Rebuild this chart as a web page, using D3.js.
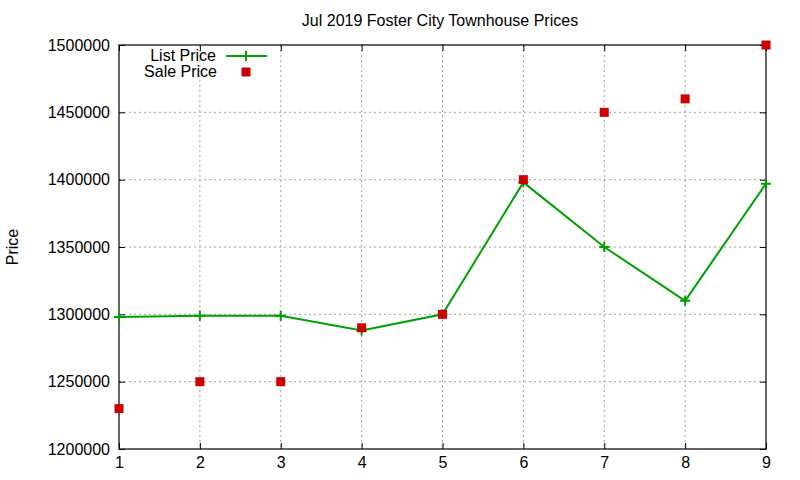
<!DOCTYPE html>
<meta charset="utf-8">
<style>
  body { margin: 0; background: #fff; }
  text { font-family: "Liberation Sans", Arial, sans-serif; fill: #000; }
</style>
<body>
<script src="https://d3js.org/d3.v7.min.js"></script>
<script>
  // data
  var months = [1, 2, 3, 4, 5, 6, 7, 8, 9];
  var listPrice = [1298000, 1299000, 1299000, 1288000, 1300000, 1398000, 1350000, 1310000, 1397000];
  var salePrice = [1230000, 1250000, 1250000, 1290000, 1300000, 1400000, 1450000, 1460000, 1500000];
  var yTicks = [1200000, 1250000, 1300000, 1350000, 1400000, 1450000, 1500000];
  var title = "Jul 2019 Foster City Townhouse Prices";

  var svg = d3.select("body").append("svg")
          .attr("width", 800)
          .attr("height", 480);

  var margin = {top: 45, right: 34, bottom: 31, left: 119},
          width = 800 - margin.left - margin.right,
          height = 480 - margin.top - margin.bottom,
          g = svg.append("g").attr("transform", "translate(" + margin.left + "," + margin.top + ")");

  var x = d3.scaleLinear().domain([1, 9]).range([0, width]);
  var y = d3.scaleLinear().domain([1200000, 1500000]).range([height, 0]);

  // grid
  g.append("g").selectAll("line")
          .data(months.slice(1, -1))
          .enter().append("line")
          .attr("x1", function(d) { return x(d); })
          .attr("x2", function(d) { return x(d); })
          .attr("y1", 0).attr("y2", height)
          .attr("stroke", "#a0a0a0").attr("stroke-dasharray", "2,3");
  g.append("g").selectAll("line")
          .data(yTicks.slice(1, -1))
          .enter().append("line")
          .attr("x1", 0).attr("x2", width)
          .attr("y1", function(d) { return y(d); })
          .attr("y2", function(d) { return y(d); })
          .attr("stroke", "#a0a0a0").attr("stroke-dasharray", "2,3");

  // axes (ticks point inward, mirrored on top/right)
  function styleAxis(sel) {
    sel.select(".domain").remove();
    sel.selectAll(".tick line").attr("stroke", "#000");
    sel.selectAll(".tick text").style("font-size", "16px")
            .style("font-family", "'Liberation Sans', Arial, sans-serif");
  }
  g.append("g").attr("transform", "translate(0," + height + ")")
          .call(d3.axisBottom(x).tickValues(months).tickSizeInner(-6).tickPadding(8).tickFormat(d3.format("d")))
          .call(styleAxis);
  g.append("g")
          .call(d3.axisLeft(y).tickValues(yTicks).tickSizeInner(-6).tickPadding(9).tickFormat(d3.format("d")))
          .call(styleAxis);
  g.append("g")
          .call(d3.axisTop(x).tickValues(months).tickSizeInner(-6).tickFormat(""))
          .call(styleAxis);
  g.append("g").attr("transform", "translate(" + width + ",0)")
          .call(d3.axisRight(y).tickValues(yTicks).tickSizeInner(-6).tickFormat(""))
          .call(styleAxis);

  g.append("rect")
          .attr("width", width).attr("height", height)
          .attr("fill", "none").attr("stroke", "#000").attr("stroke-width", 1.2);

  // list price line
  var line = d3.line()
          .x(function(d, i) { return x(months[i]); })
          .y(function(d) { return y(d); });
  g.append("path")
          .datum(listPrice)
          .attr("d", line)
          .attr("fill", "none")
          .attr("stroke", "#00a000")
          .attr("stroke-width", 2);

  function plusPath(s) {
    return "M" + (-s) + ",0H" + s + "M0," + (-s) + "V" + s;
  }
  g.append("g").selectAll("path")
          .data(listPrice)
          .enter().append("path")
          .attr("transform", function(d, i) { return "translate(" + x(months[i]) + "," + y(d) + ")"; })
          .attr("d", plusPath(5))
          .attr("stroke", "#00a000").attr("stroke-width", 2);

  // sale price points
  g.append("g").selectAll("rect")
          .data(salePrice)
          .enter().append("rect")
          .attr("x", function(d, i) { return x(months[i]) - 4.5; })
          .attr("y", function(d) { return y(d) - 4.5; })
          .attr("width", 9).attr("height", 9)
          .attr("fill", "#cc0000");

  // legend
  var legend = svg.append("g");
  legend.append("text").attr("x", 216).attr("y", 61).attr("text-anchor", "end")
          .style("font-size", "16px").text("List Price");
  legend.append("line").attr("x1", 226).attr("x2", 267).attr("y1", 56).attr("y2", 56)
          .attr("stroke", "#00a000").attr("stroke-width", 2);
  legend.append("path").attr("transform", "translate(246,56)").attr("d", plusPath(5))
          .attr("stroke", "#00a000").attr("stroke-width", 2);
  legend.append("text").attr("x", 217).attr("y", 77).attr("text-anchor", "end")
          .style("font-size", "16px").text("Sale Price");
  legend.append("rect").attr("x", 241.5).attr("y", 67.5).attr("width", 9).attr("height", 9)
          .attr("fill", "#cc0000");

  // title and y label
  svg.append("text").attr("x", 440).attr("y", 26).attr("text-anchor", "middle")
          .style("font-size", "16px").text(title);
  svg.append("text").attr("transform", "translate(18,247) rotate(-90)")
          .attr("text-anchor", "middle").style("font-size", "16px").text("Price");
</script>
</body>
